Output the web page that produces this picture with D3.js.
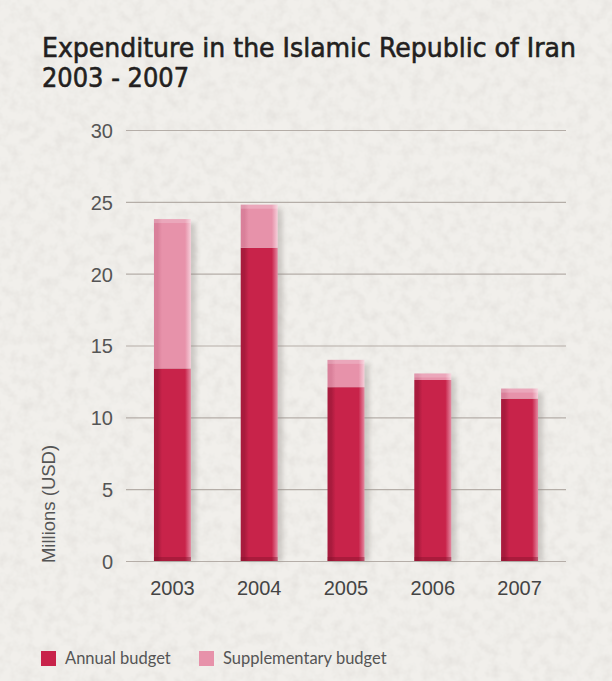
<!DOCTYPE html>
<html>
<head>
<meta charset="utf-8">
<script src="https://cdn.jsdelivr.net/npm/d3@7"></script>
<style>
  html, body { margin: 0; padding: 0; background: #efece8; }
  svg { display: block; }
</style>
</head>
<body>
<script>
// chart data
var years = ["2003", "2004", "2005", "2006", "2007"];
var annual = [13.4, 21.8, 12.1, 12.6, 11.3];
var supplementary = [10.4, 3.0, 1.9, 0.45, 0.7];
var yTicks = [0, 5, 10, 15, 20, 25, 30];
var seriesNames = ["Annual budget", "Supplementary budget"];

var width = 612;
var height = 681;

var svg = d3.select("body")
  .append("svg")
  .attr("width", width)
  .attr("height", height);

var defs = svg.append("defs");

// paper texture, fine and faint
var paper = defs.append("filter").attr("id", "paper")
  .attr("x", 0).attr("y", 0).attr("width", 1).attr("height", 1);
paper.append("feTurbulence")
  .attr("type", "fractalNoise")
  .attr("baseFrequency", 0.09)
  .attr("numOctaves", 3)
  .attr("seed", 3)
  .attr("result", "noise");
paper.append("feColorMatrix")
  .attr("in", "noise")
  .attr("type", "matrix")
  .attr("values", "0 0 0 0 0.70  0 0 0 0 0.68  0 0 0 0 0.65  0 0 0 -0.9 0.55")
  .attr("result", "spots");
paper.append("feComposite").attr("in", "spots").attr("in2", "SourceGraphic").attr("operator", "over");

svg.append("rect")
  .attr("width", width)
  .attr("height", height)
  .attr("fill", "#f1efeb")
  .attr("filter", "url(#paper)");

// bar gradients
function barGradient(id, dark, mid, light) {
  var g = defs.append("linearGradient").attr("id", id)
    .attr("x1", "0%").attr("x2", "100%").attr("y1", "0%").attr("y2", "0%");
  g.append("stop").attr("offset", "0%").attr("stop-color", dark);
  g.append("stop").attr("offset", "10%").attr("stop-color", dark);
  g.append("stop").attr("offset", "22%").attr("stop-color", mid);
  g.append("stop").attr("offset", "84%").attr("stop-color", mid);
  g.append("stop").attr("offset", "100%").attr("stop-color", light);
}
barGradient("gradAnnual", "#a81b3d", "#c8234a", "#e58aa2");
barGradient("gradSupp", "#d9809a", "#e792aa", "#f6cfda");

var shadow = defs.append("filter").attr("id", "shadow")
  .attr("x", "-50%").attr("y", "-10%").attr("width", "200%").attr("height", "120%");
shadow.append("feGaussianBlur").attr("stdDeviation", 2.5);

var colors = ["#c8234a", "#e792aa"];

// scales
var x = d3.scaleBand()
  .domain(years)
  .range([126, 566])
  .paddingInner(0.574)
  .paddingOuter(0.322);

var y = d3.scaleLinear()
  .domain([0, 30])
  .range([561, 130]);

// grid lines
var yAxis = d3.axisLeft(y)
  .tickValues(yTicks)
  .tickSize(-440)
  .tickPadding(13);

var gy = svg.append("g")
  .attr("transform", "translate(126,0)")
  .call(yAxis);
gy.select(".domain").remove();
gy.selectAll(".tick line")
  .attr("stroke", "#b5aea8")
  .attr("stroke-width", 1.2);
gy.selectAll(".tick text")
  .attr("fill", "#555")
  .attr("font-family", "Liberation Sans, Arial, sans-serif")
  .attr("font-size", 20)
  .attr("dy", "0.37em");

// stacked data
var rows = years.map(function(yr, i) {
  return { year: yr, annual: annual[i], supplementary: supplementary[i] };
});
var stack = d3.stack().keys(["annual", "supplementary"]);
var layers = stack(rows);

// shadows to the right of each bar
svg.append("g").selectAll("rect")
  .data(rows)
  .enter()
  .append("rect")
  .attr("x", function(d) { return x(d.year) + 5; })
  .attr("y", function(d) { return y(d.annual + d.supplementary) + 4; })
  .attr("width", x.bandwidth())
  .attr("height", function(d) { return y(0) - y(d.annual + d.supplementary) - 4; })
  .attr("fill", "#8a8480")
  .attr("opacity", 0.35)
  .attr("filter", "url(#shadow)");

var fills = ["url(#gradAnnual)", "url(#gradSupp)"];
var layerG = svg.append("g").selectAll("g")
  .data(layers)
  .enter()
  .append("g")
  .attr("fill", function(d, i) { return fills[i]; });

layerG.selectAll("rect")
  .data(function(d) { return d; })
  .enter()
  .append("rect")
  .attr("x", function(d) { return x(d.data.year); })
  .attr("y", function(d) { return y(d[1]); })
  .attr("width", x.bandwidth())
  .attr("height", function(d) { return y(d[0]) - y(d[1]); });

// top highlight of each bar
svg.append("g").selectAll("rect")
  .data(rows)
  .enter()
  .append("rect")
  .attr("x", function(d) { return x(d.year); })
  .attr("y", function(d) { return y(d.annual + d.supplementary); })
  .attr("width", x.bandwidth())
  .attr("height", 4)
  .attr("fill", "#fff")
  .attr("opacity", 0.2);

// dark base bevel
svg.append("g").selectAll("rect")
  .data(rows)
  .enter()
  .append("rect")
  .attr("x", function(d) { return x(d.year); })
  .attr("y", y(0) - 4)
  .attr("width", x.bandwidth())
  .attr("height", 4)
  .attr("fill", "#7d1029")
  .attr("opacity", 0.4);

// x labels
svg.append("g").selectAll("text")
  .data(years)
  .enter()
  .append("text")
  .attr("x", function(d) { return x(d) + x.bandwidth() / 2; })
  .attr("y", 595)
  .attr("text-anchor", "middle")
  .attr("fill", "#444")
  .attr("font-family", "Liberation Sans, Arial, sans-serif")
  .attr("font-size", 20)
  .text(function(d) { return d; });

// y axis title
svg.append("text")
  .attr("transform", "translate(55,504) rotate(-90)")
  .attr("text-anchor", "middle")
  .attr("fill", "#555")
  .attr("font-family", "Liberation Sans, Arial, sans-serif")
  .attr("font-size", 18.5)
  .text("Millions (USD)");

// title
var title = svg.append("text")
  .attr("fill", "#231f20")
  .attr("font-family", "DejaVu Sans, sans-serif")
  .attr("font-size", 26)
  .attr("stroke", "#231f20")
  .attr("stroke-width", 0.6);
title.append("tspan")
  .attr("x", 42).attr("y", 57)
  .attr("textLength", 534)
  .attr("lengthAdjust", "spacingAndGlyphs")
  .text("Expenditure in the Islamic Republic of Iran");
title.append("tspan")
  .attr("x", 42).attr("y", 87)
  .attr("textLength", 147)
  .attr("lengthAdjust", "spacingAndGlyphs")
  .text("2003 - 2007");

// legend
var legendX = [41, 199];
var legend = svg.append("g").selectAll("g")
  .data(seriesNames)
  .enter()
  .append("g")
  .attr("transform", function(d, i) { return "translate(" + legendX[i] + ",651)"; });
legend.append("rect")
  .attr("width", 15)
  .attr("height", 15)
  .attr("fill", function(d, i) { return colors[i]; });
legend.append("text")
  .attr("x", 24)
  .attr("y", 13)
  .attr("fill", "#555")
  .attr("font-family", "Lato, sans-serif")
  .attr("font-size", 16.5)
  .text(function(d) { return d; });
</script>
</body>
</html>
